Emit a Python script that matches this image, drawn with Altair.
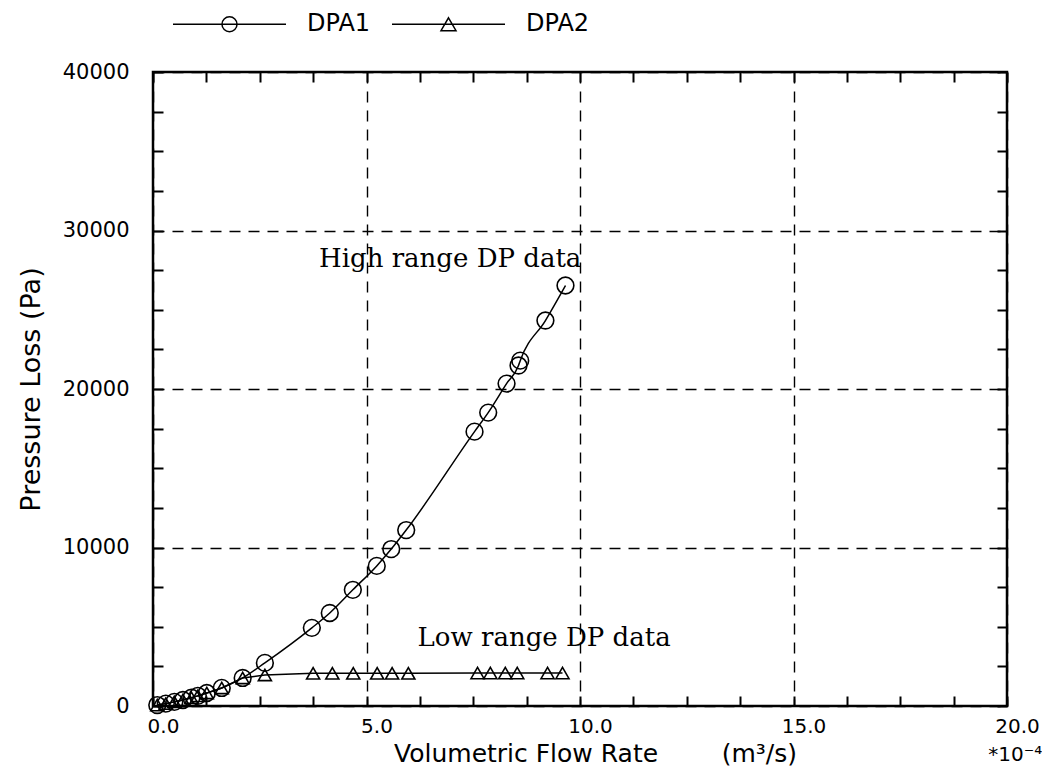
import altair as alt
import pandas as pd

# ---------------- data ----------------
series_names = ["DPA1", "DPA2"]

# volumetric flow rate, units of 1e-4 m^3/s
dpa1_flow = [0.10, 0.30, 0.50, 0.70, 0.90, 1.05, 1.26, 1.61, 2.10, 2.62, 3.72, 4.14,
             4.68, 5.24, 5.58, 5.93, 7.53, 7.85, 8.28, 8.56, 8.60, 9.19, 9.66]
dpa1_loss = [60, 150, 260, 380, 520, 640, 820, 1140, 1770, 2720, 4930, 5870,
             7330, 8840, 9900, 11100, 17310, 18510, 20340, 21480, 21790, 24320, 26530]

dpa2_flow = [0.10, 0.30, 0.50, 0.70, 0.90, 1.05, 1.26, 1.61, 2.10, 2.62, 3.75, 4.20,
             4.69, 5.25, 5.60, 5.98, 7.60, 7.90, 8.25, 8.53, 9.24, 9.59]
dpa2_loss = [60, 150, 260, 380, 520, 640, 820, 1140, 1770, 1960, 2060, 2060,
             2060, 2060, 2060, 2060, 2080, 2080, 2080, 2080, 2080, 2080]

x_label_values = [0, 5, 10, 15, 20]
y_label_values = [0, 10000, 20000, 30000, 40000]
x_minor_ticks = [0, 1.25, 2.5, 3.75, 5, 6.25, 7.5, 8.75, 10, 11.25, 12.5, 13.75, 15,
                 16.25, 17.5, 18.75, 20]
y_minor_ticks = [0, 2500, 5000, 7500, 10000, 12500, 15000, 17500, 20000, 22500, 25000,
                 27500, 30000, 32500, 35000, 37500, 40000]

note_text = ["High range DP data", "Low range DP data"]
note_x = [6.96, 9.16]
note_y = [27680, 3790]

exp_text = ["*10\u207b\u2074"]
exp_x = [19.56]
exp_y = [-3470]

x_title = "Volumetric Flow Rate" + "\u00a0" * 8 + "(m\u00b3/s)"
y_title = "Pressure Loss (Pa)"

# ---------------- tables ----------------
df1 = pd.DataFrame({"flow": dpa1_flow, "loss": dpa1_loss, "series": series_names[0]})
df2 = pd.DataFrame({"flow": dpa2_flow, "loss": dpa2_loss, "series": series_names[1]})
notes = pd.DataFrame({"flow": note_x, "loss": note_y, "text": note_text})
expo = pd.DataFrame({"flow": exp_x, "loss": exp_y, "text": exp_text})

W, H = 854, 634
FONT = "DejaVu Sans"

xs = alt.Scale(domain=[0, 20], nice=False, zero=False)
ys = alt.Scale(domain=[0, 40000], nice=False)

grid_style = dict(grid=True, gridDash=[11, 8], gridColor="black", gridWidth=1.4, gridOpacity=1)

axis_x_main = alt.Axis(
    orient="bottom", values=x_label_values, format=".1f", ticks=False, tickSize=0,
    domain=False, labelFont=FONT, labelFontSize=20, labelColor="black",
    labelPadding=10, labelOffset=10, labelFlush=False, labelOverlap=False,
    title=x_title, titleFont=FONT, titleFontSize=25, titleFontWeight="normal",
    titleColor="black", titleX=442, titleY=55, titleBaseline="alphabetic",
    titleAlign="center", **grid_style)
axis_y_main = alt.Axis(
    orient="left", values=y_label_values, format="d", ticks=False, tickSize=0,
    domain=False, labelFont=FONT, labelFontSize=21, labelColor="black",
    labelPadding=24, labelFlush=False, labelOverlap=False, labelBaseline="middle",
    title=y_title, titleFont=FONT, titleFontSize=27, titleFontWeight="normal",
    titleColor="black", titleX=-122, titleY=H / 2, titleAngle=270,
    titleBaseline="middle", titleAlign="center", **grid_style)

tick_style = dict(labels=False, domain=False, grid=False, title=None, ticks=True,
                  tickColor="black", tickWidth=2, tickSize=10)

# legend glyphs: a line segment with the marker drawn on it
circle_path = ("M-1,0L1,0M0.133,0A0.133,0.133,0,1,1,-0.133,0"
               "A0.133,0.133,0,1,1,0.133,0")
tri_path = "M-1,0L1,0M0,-0.115L0.133,0.115L-0.133,0.115Z"

legend = alt.Legend(
    orient="none", legendX=19, legendY=-105.5, direction="horizontal", title=None,
    symbolSize=12769, symbolStrokeWidth=1.5, symbolStrokeColor="black",
    symbolFillColor="transparent", symbolOpacity=1, labelFont=FONT, labelFontSize=24,
    labelColor="black", labelOffset=20, columnPadding=18, padding=0,
    labelBaseline="middle",
)

x_plain = alt.X("flow:Q", scale=xs, axis=None)
y_plain = alt.Y("loss:Q", scale=ys, axis=None)

line1 = alt.Chart(df1).mark_line(interpolate="monotone", strokeWidth=1.5, color="black").encode(
    x=alt.X("flow:Q", scale=xs, axis=axis_x_main),
    y=alt.Y("loss:Q", scale=ys, axis=axis_y_main),
)
line2 = alt.Chart(df2).mark_line(strokeWidth=1.5, color="black").encode(x=x_plain, y=y_plain)

pts1 = alt.Chart(df1).mark_point(shape="circle", size=280, filled=False, stroke="black",
                                 strokeWidth=1.6, opacity=1).encode(x=x_plain, y=y_plain)
pts2 = alt.Chart(df2).mark_point(shape="triangle-up", size=170, filled=False, stroke="black",
                                 strokeWidth=1.6, opacity=1).encode(x=x_plain, y=y_plain)

# empty layer that only carries the legend
legend_layer = alt.Chart(df1).transform_filter("false").mark_point(
    filled=False, stroke="black", strokeWidth=1.5
).encode(
    x=x_plain, y=y_plain,
    shape=alt.Shape("series:N",
                    scale=alt.Scale(domain=series_names, range=[circle_path, tri_path]),
                    legend=legend),
)

note_layer = alt.Chart(notes).mark_text(
    font="DejaVu Serif", fontSize=26, color="black", align="center", baseline="alphabetic"
).encode(x=x_plain, y=y_plain, text="text:N")

expo_layer = alt.Chart(expo).mark_text(
    font=FONT, fontSize=20, color="black", align="left", baseline="alphabetic"
).encode(x=x_plain, y=y_plain, text="text:N")

ticks_in_a = alt.Chart(df1).mark_point(opacity=0).encode(
    x=alt.X("flow:Q", scale=xs, axis=alt.Axis(orient="top", offset=-H, values=x_minor_ticks, **tick_style)),
    y=alt.Y("loss:Q", scale=ys, axis=alt.Axis(orient="right", offset=-W, values=y_minor_ticks, **tick_style)),
)
ticks_in_b = alt.Chart(df1).mark_point(opacity=0).encode(
    x=alt.X("flow:Q", scale=xs, axis=alt.Axis(orient="bottom", offset=-H, values=x_minor_ticks, **tick_style)),
    y=alt.Y("loss:Q", scale=ys, axis=alt.Axis(orient="left", offset=-W, values=y_minor_ticks, **tick_style)),
)

chart = alt.layer(
    line1, line2, pts1, pts2, legend_layer, note_layer, expo_layer, ticks_in_a, ticks_in_b
).resolve_axis(
    x="independent", y="independent"
).properties(
    width=W, height=H, autosize="none",
    padding={"left": 145, "top": 64, "right": 35, "bottom": 64},
    background="white",
).configure_view(stroke="black", strokeWidth=2.5)

chart.save("out.html", embed_options={"renderer": "svg", "actions": False})
